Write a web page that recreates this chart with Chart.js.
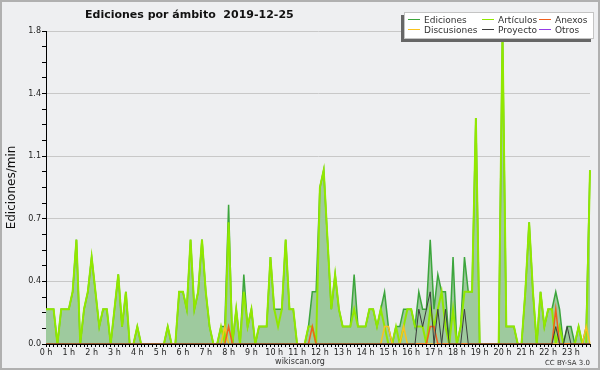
<!DOCTYPE html>
<html>
<head>
<meta charset="utf-8">
<title>Ediciones por ámbito 2019-12-25</title>
<script src="https://cdn.jsdelivr.net/npm/chart.js@4.4.1/dist/chart.umd.min.js"></script>
<style>
body { margin: 0; background: #eeeff1; }
#wrap { width: 600px; height: 370px; }
</style>
</head>
<body>
<div id="wrap"><canvas id="chart" width="600" height="370"></canvas></div>
<script>
var hourLabels = ['0 h', '1 h', '2 h', '3 h', '4 h', '5 h', '6 h', '7 h', '8 h', '9 h', '10 h', '11 h',
	'12 h', '13 h', '14 h', '15 h', '16 h', '17 h', '18 h', '19 h', '20 h', '21 h', '22 h', '23 h'];

// una casilla cada 10 minutos
var slots = [];
hourLabels.forEach(h => {
	['00', '10', '20', '30', '40', '50'].forEach(m => slots.push(h.replace(' h', '') + ':' + m));
});

// ediciones/min por ámbito
var ediciones = [
	0.2, 0.2, 0.2, 0, 0.2, 0.2, 0.2, 0.3, 0.6, 0, 0.2, 0.3,
	0.5, 0.3, 0.1, 0.2, 0.2, 0, 0.2, 0.4, 0.1, 0.3, 0, 0,
	0.1, 0, 0, 0, 0, 0, 0, 0, 0.1, 0, 0, 0.3,
	0.3, 0.2, 0.6, 0.2, 0.3, 0.6, 0.3, 0.1, 0, 0, 0.1, 0.1,
	0.8, 0, 0.2, 0, 0.4, 0.1, 0.2, 0, 0.1, 0.1, 0.1, 0.5,
	0.2, 0.2, 0.2, 0.6, 0.2, 0.2, 0, 0, 0, 0.1, 0.3, 0.3,
	0.9, 1.0, 0.6, 0.2, 0.4, 0.2, 0.1, 0.1, 0.1, 0.4, 0.1, 0.1,
	0.1, 0.2, 0.2, 0.1, 0.2, 0.3, 0.1, 0, 0.1, 0.1, 0.2, 0.2,
	0.2, 0.1, 0.3, 0.2, 0.2, 0.6, 0.2, 0.4, 0.3, 0.3, 0, 0.5,
	0, 0.1, 0.5, 0.3, 0.3, 1.3, 0, 0, 0, 0, 0, 0,
	1.8, 0.1, 0.1, 0.1, 0, 0, 0.3, 0.7, 0.3, 0, 0.3, 0.1,
	0.2, 0.2, 0.3, 0.2, 0, 0.1, 0.1, 0, 0.1, 0, 0.1, 1.0
];
var articulos = [
	0.2, 0.2, 0.2, 0, 0.2, 0.2, 0.2, 0.3, 0.6, 0, 0.2, 0.3,
	0.5, 0.3, 0.1, 0.2, 0.2, 0, 0.2, 0.4, 0.1, 0.3, 0, 0,
	0.1, 0, 0, 0, 0, 0, 0, 0, 0.1, 0, 0, 0.3,
	0.3, 0.2, 0.6, 0.2, 0.3, 0.6, 0.3, 0.1, 0, 0, 0.1, 0,
	0.7, 0, 0.2, 0, 0.3, 0.1, 0.2, 0, 0.1, 0.1, 0.1, 0.5,
	0.2, 0.1, 0.2, 0.6, 0.2, 0.2, 0, 0, 0, 0.1, 0.1, 0,
	0.9, 1.0, 0.6, 0.2, 0.4, 0.2, 0.1, 0.1, 0.1, 0.2, 0.1, 0.1,
	0.1, 0.2, 0.2, 0.1, 0.2, 0.1, 0, 0, 0.1, 0, 0.1, 0.2,
	0.2, 0.1, 0.1, 0.1, 0, 0.2, 0.1, 0.2, 0.3, 0.1, 0, 0.2,
	0, 0.1, 0.3, 0.3, 0.3, 1.3, 0, 0, 0, 0, 0, 0,
	1.8, 0.1, 0.1, 0.1, 0, 0, 0.3, 0.7, 0.3, 0, 0.3, 0.1,
	0.2, 0.2, 0, 0.1, 0, 0, 0, 0, 0.1, 0, 0, 1.0
];
var anexos = [
	0, 0, 0, 0, 0, 0, 0, 0, 0, 0, 0, 0,
	0, 0, 0, 0, 0, 0, 0, 0, 0, 0, 0, 0,
	0, 0, 0, 0, 0, 0, 0, 0, 0, 0, 0, 0,
	0, 0, 0, 0, 0, 0, 0, 0, 0, 0, 0, 0,
	0.1, 0, 0, 0, 0, 0, 0, 0, 0, 0, 0, 0,
	0, 0, 0, 0, 0, 0, 0, 0, 0, 0, 0.1, 0,
	0, 0, 0, 0, 0, 0, 0, 0, 0, 0, 0, 0,
	0, 0, 0, 0, 0, 0, 0, 0, 0, 0, 0, 0,
	0, 0, 0, 0, 0, 0.1, 0.1, 0, 0, 0, 0, 0,
	0, 0, 0, 0, 0, 0, 0, 0, 0, 0, 0, 0,
	0, 0, 0, 0, 0, 0, 0, 0, 0, 0, 0, 0,
	0, 0, 0.2, 0, 0, 0, 0, 0, 0, 0, 0, 0
];
var discusiones = [
	0, 0, 0, 0, 0, 0, 0, 0, 0, 0, 0, 0,
	0, 0, 0, 0, 0, 0, 0, 0, 0, 0, 0, 0,
	0, 0, 0, 0, 0, 0, 0, 0, 0, 0, 0, 0,
	0, 0, 0, 0, 0, 0, 0, 0, 0, 0, 0, 0.1,
	0, 0, 0, 0, 0, 0, 0, 0, 0, 0, 0, 0,
	0, 0, 0, 0, 0, 0, 0, 0, 0, 0, 0, 0,
	0, 0, 0, 0, 0, 0, 0, 0, 0, 0, 0, 0,
	0, 0, 0, 0, 0, 0.1, 0.1, 0, 0, 0, 0.1, 0,
	0, 0, 0, 0, 0, 0, 0, 0, 0, 0, 0, 0,
	0, 0, 0, 0, 0, 0, 0, 0, 0, 0, 0, 0,
	0, 0, 0, 0, 0, 0, 0, 0, 0, 0, 0, 0,
	0, 0, 0, 0, 0, 0, 0, 0, 0, 0, 0.1, 0
];
var proyecto = [
	0, 0, 0, 0, 0, 0, 0, 0, 0, 0, 0, 0,
	0, 0, 0, 0, 0, 0, 0, 0, 0, 0, 0, 0,
	0, 0, 0, 0, 0, 0, 0, 0, 0, 0, 0, 0,
	0, 0, 0, 0, 0, 0, 0, 0, 0, 0, 0, 0,
	0, 0, 0, 0, 0, 0, 0, 0, 0, 0, 0, 0,
	0, 0, 0, 0, 0, 0, 0, 0, 0, 0, 0, 0,
	0, 0, 0, 0, 0, 0, 0, 0, 0, 0, 0, 0,
	0, 0, 0, 0, 0, 0, 0, 0, 0, 0, 0, 0,
	0, 0, 0.2, 0.1, 0.2, 0.3, 0, 0.2, 0, 0.2, 0, 0,
	0, 0, 0.2, 0, 0, 0, 0, 0, 0, 0, 0, 0,
	0, 0, 0, 0, 0, 0, 0, 0, 0, 0, 0, 0,
	0, 0, 0.1, 0, 0, 0.1, 0, 0, 0, 0, 0, 0
];
var otros = [
	0, 0, 0, 0, 0, 0, 0, 0, 0, 0, 0, 0,
	0, 0, 0, 0, 0, 0, 0, 0, 0, 0, 0, 0,
	0, 0, 0, 0, 0, 0, 0, 0, 0, 0, 0, 0,
	0, 0, 0, 0, 0, 0, 0, 0, 0, 0, 0, 0,
	0, 0, 0, 0, 0, 0, 0, 0, 0, 0, 0, 0,
	0, 0, 0, 0, 0, 0, 0, 0, 0, 0, 0, 0,
	0, 0, 0, 0, 0, 0, 0, 0, 0, 0, 0, 0,
	0, 0, 0, 0, 0, 0, 0, 0, 0, 0, 0, 0,
	0, 0, 0, 0, 0, 0, 0, 0, 0, 0, 0, 0,
	0, 0, 0, 0, 0, 0, 0, 0, 0, 0, 0, 0,
	0, 0, 0, 0, 0, 0, 0, 0, 0, 0, 0, 0,
	0, 0, 0, 0, 0, 0, 0, 0, 0, 0, 0, 0
];

var FONT = '"DejaVu Sans", sans-serif';
Chart.defaults.font.family = FONT;
Chart.defaults.color = '#222';

// leyenda: 3 columnas x 2 filas
var legendCols = [408, 482, 539];
var legendRows = [19, 29];

// fondo, título, leyenda y pie
var decor = {
	id: 'decor',
	beforeDraw: (chart) => {
		var c = chart.ctx;
		c.save();
		c.fillStyle = '#eeeff1';
		c.fillRect(0, 0, 600, 370);
		c.strokeStyle = '#b0b0b0';
		c.lineWidth = 2;
		c.strokeRect(1, 1, 598, 368);
		c.restore();
	},
	afterDraw: (chart) => {
		var c = chart.ctx;
		c.save();
		c.fillStyle = '#111';
		c.font = 'bold 11px ' + FONT;
		c.textBaseline = 'alphabetic';
		c.fillText('Ediciones por ámbito  2019-12-25', 85, 18);

		// caja de leyenda con sombra
		c.fillStyle = '#666';
		c.fillRect(401, 15, 190, 27);
		c.fillStyle = '#fff';
		c.fillRect(404, 12, 190, 27);
		c.strokeStyle = '#c4c4c4';
		c.lineWidth = 1;
		c.strokeRect(404.5, 12.5, 189, 26);

		c.font = '9px ' + FONT;
		chart.data.datasets.forEach((ds, i) => {
			var x = legendCols[i % 3];
			var y = legendRows[Math.floor(i / 3)];
			c.strokeStyle = ds.borderColor;
			c.lineWidth = 1;
			c.beginPath();
			c.moveTo(x, y + 0.5);
			c.lineTo(x + 12, y + 0.5);
			c.stroke();
			c.fillStyle = '#333';
			c.fillText(ds.label, x + 16, y + 3.5);
		});

		c.font = '8px ' + FONT;
		c.fillStyle = '#333';
		c.textAlign = 'center';
		c.fillText('wikiscan.org', 300, 364);
		c.font = '7px ' + FONT;
		c.textAlign = 'right';
		c.fillText('CC BY-SA 3.0', 590, 365);
		c.restore();
	}
};

var chart = new Chart(document.getElementById('chart'), {
	type: 'line',
	data: {
		labels: slots,
		datasets: [{
			label: 'Ediciones',
			data: ediciones,
			borderColor: 'rgb(60,165,60)',
			backgroundColor: 'rgb(158,202,158)',
			borderWidth: 1.5,
			fill: 'origin',
			order: 10,
		}, {
			label: 'Artículos',
			data: articulos,
			borderColor: 'rgb(145,232,0)',
			borderWidth: 2,
			fill: false,
			order: 6,
		}, {
			label: 'Anexos',
			data: anexos,
			borderColor: 'rgb(240,95,30)',
			borderWidth: 1.5,
			fill: false,
			order: 3,
		}, {
			label: 'Discusiones',
			data: discusiones,
			borderColor: 'rgb(250,195,30)',
			borderWidth: 1.5,
			fill: false,
			order: 4,
		}, {
			label: 'Proyecto',
			data: proyecto,
			borderColor: 'rgb(60,60,60)',
			borderWidth: 1,
			fill: false,
			order: 2,
		}, {
			label: 'Otros',
			data: otros,
			borderColor: 'rgb(150,60,230)',
			borderWidth: 1,
			fill: false,
			order: 5,
		}]
	},
	options: {
		responsive: false,
		animation: false,
		devicePixelRatio: 1,
		layout: { padding: { top: 31, right: 10, left: 0, bottom: 0 } },
		plugins: {
			legend: { display: false },
			tooltip: { enabled: false },
		},
		elements: {
			point: { radius: 0 },
			line: { tension: 0 },
		},
		scales: {
			x: {
				z: 1,
				grid: { drawOnChartArea: false, tickLength: 3, tickColor: '#000' },
				border: { color: '#000', width: 1 },
				ticks: {
					autoSkip: false,
					maxRotation: 0,
					padding: 1,
					font: { size: 8 },
					color: '#222',
					callback: (v, i) => i % 6 === 0 ? hourLabels[i / 6] : '',
				},
				afterFit: s => { s.height = 26; },
			},
			y: {
				min: 0,
				max: 1.8,
				grid: {
					color: c => c.index % 4 === 0 ? '#c8c8c8' : 'rgba(0,0,0,0)',
					tickColor: '#000',
					tickLength: 4,
				},
				border: { color: '#000' },
				ticks: {
					stepSize: 0.09,
					maxTicksLimit: 30,
					autoSkip: false,
					padding: 1,
					font: { size: 8 },
					color: '#222',
					callback: (v, i) => i % 4 === 0 ? v.toFixed(1) : '',
				},
				title: {
					display: true,
					text: 'Ediciones/min',
					font: { size: 12 },
					color: '#111',
					padding: { top: 5, bottom: 0 },
				},
				afterFit: s => { s.width = 46; },
			}
		}
	},
	plugins: [decor]
});
</script>
</body>
</html>
